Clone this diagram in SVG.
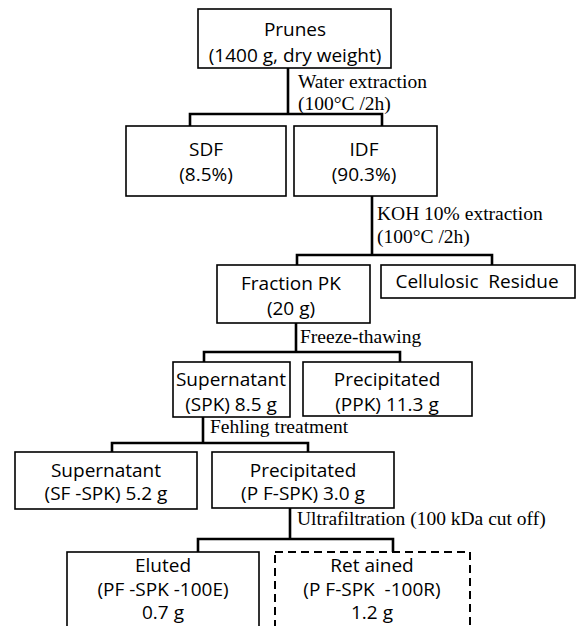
<svg xmlns="http://www.w3.org/2000/svg" width="577" height="626" viewBox="0 0 577 626">
<style>
.box{fill:#fff;stroke:#000;stroke-width:1.6}
.dash{fill:#fff;stroke:#000;stroke-width:2;stroke-dasharray:8 5}
.con{fill:none;stroke:#000;stroke-width:2.6}
.t{font-family:"Open Sans","Noto Sans",sans-serif;font-size:19px;text-anchor:middle;fill:#000;white-space:pre}
.l{font-family:"Liberation Serif","Times New Roman",serif;font-size:19.5px;fill:#000}
</style>
<rect width="577" height="626" fill="#fff"/>
<g id="connectors">
<path class="con" d="M288 68V114M190 126V114H382V126"/>
<path class="con" d="M372 196V255M297 265V255H492V265"/>
<path class="con" d="M296 323V352M204 362V352H400V362"/>
<path class="con" d="M203 417V443M112 452V443H308V452"/>
<path class="con" d="M290 508V539M198 552V539H393V552"/>
<text class="l" x="298" y="88">Water extraction</text>
<text class="l" x="298" y="110">(100°C /2h)</text>
<text class="l" x="377" y="220">KOH 10% extraction</text>
<text class="l" x="377" y="243">(100°C /2h)</text>
<text class="l" x="300" y="343">Freeze-thawing</text>
<text class="l" x="210" y="433">Fehling treatment</text>
<text class="l" x="297" y="525">Ultrafiltration (100 kDa cut off)</text>
</g>
<g id="prunes">
<rect class="box" x="198" y="9" width="193" height="59"/>
<text class="t" x="295" y="36">Prunes</text>
<text class="t" x="295" y="62">(1400 g, dry weight)</text>
</g>
<g id="sdf">
<rect class="box" x="126" y="126" width="160" height="70"/>
<text class="t" x="206" y="156">SDF</text>
<text class="t" x="206" y="181">(8.5%)</text>
</g>
<g id="idf">
<rect class="box" x="294" y="126" width="143" height="70"/>
<text class="t" x="364" y="156">IDF</text>
<text class="t" x="364" y="181">(90.3%)</text>
</g>
<g id="fractionpk">
<rect class="box" x="217" y="265" width="153" height="58"/>
<text class="t" x="291" y="290">Fraction PK</text>
<text class="t" x="291" y="315">(20 g)</text>
</g>
<g id="cellulosic">
<rect class="box" x="381" y="265" width="194" height="33"/>
<text class="t" x="477" y="288">Cellulosic  Residue</text>
</g>
<g id="spk">
<rect class="box" x="173" y="362" width="117" height="55"/>
<text class="t" x="231" y="386">Supernatant</text>
<text class="t" x="231" y="411">(SPK) 8.5 g</text>
</g>
<g id="ppk">
<rect class="box" x="303" y="362" width="169" height="54"/>
<text class="t" x="387" y="386">Precipitated</text>
<text class="t" x="387" y="411">(PPK) 11.3 g</text>
</g>
<g id="sfspk">
<rect class="box" x="15" y="452" width="182" height="57"/>
<text class="t" x="106" y="477">Supernatant</text>
<text class="t" x="106" y="500">(SF -SPK) 5.2 g</text>
</g>
<g id="pfspk">
<rect class="box" x="212" y="452" width="182" height="56"/>
<text class="t" x="303" y="477">Precipitated</text>
<text class="t" x="303" y="500">(P F-SPK) 3.0 g</text>
</g>
<g id="eluted">
<rect class="box" x="67" y="552" width="192" height="90"/>
<text class="t" x="163" y="572">Eluted</text>
<text class="t" x="163" y="596">(PF -SPK -100E)</text>
<text class="t" x="163" y="619">0.7 g</text>
</g>
<g id="retained">
<rect class="dash" x="275" y="552" width="195" height="90"/>
<text class="t" x="372" y="572">Ret ained</text>
<text class="t" x="372" y="596">(P F-SPK  -100R)</text>
<text class="t" x="372" y="619">1.2 g</text>
</g>
</svg>
